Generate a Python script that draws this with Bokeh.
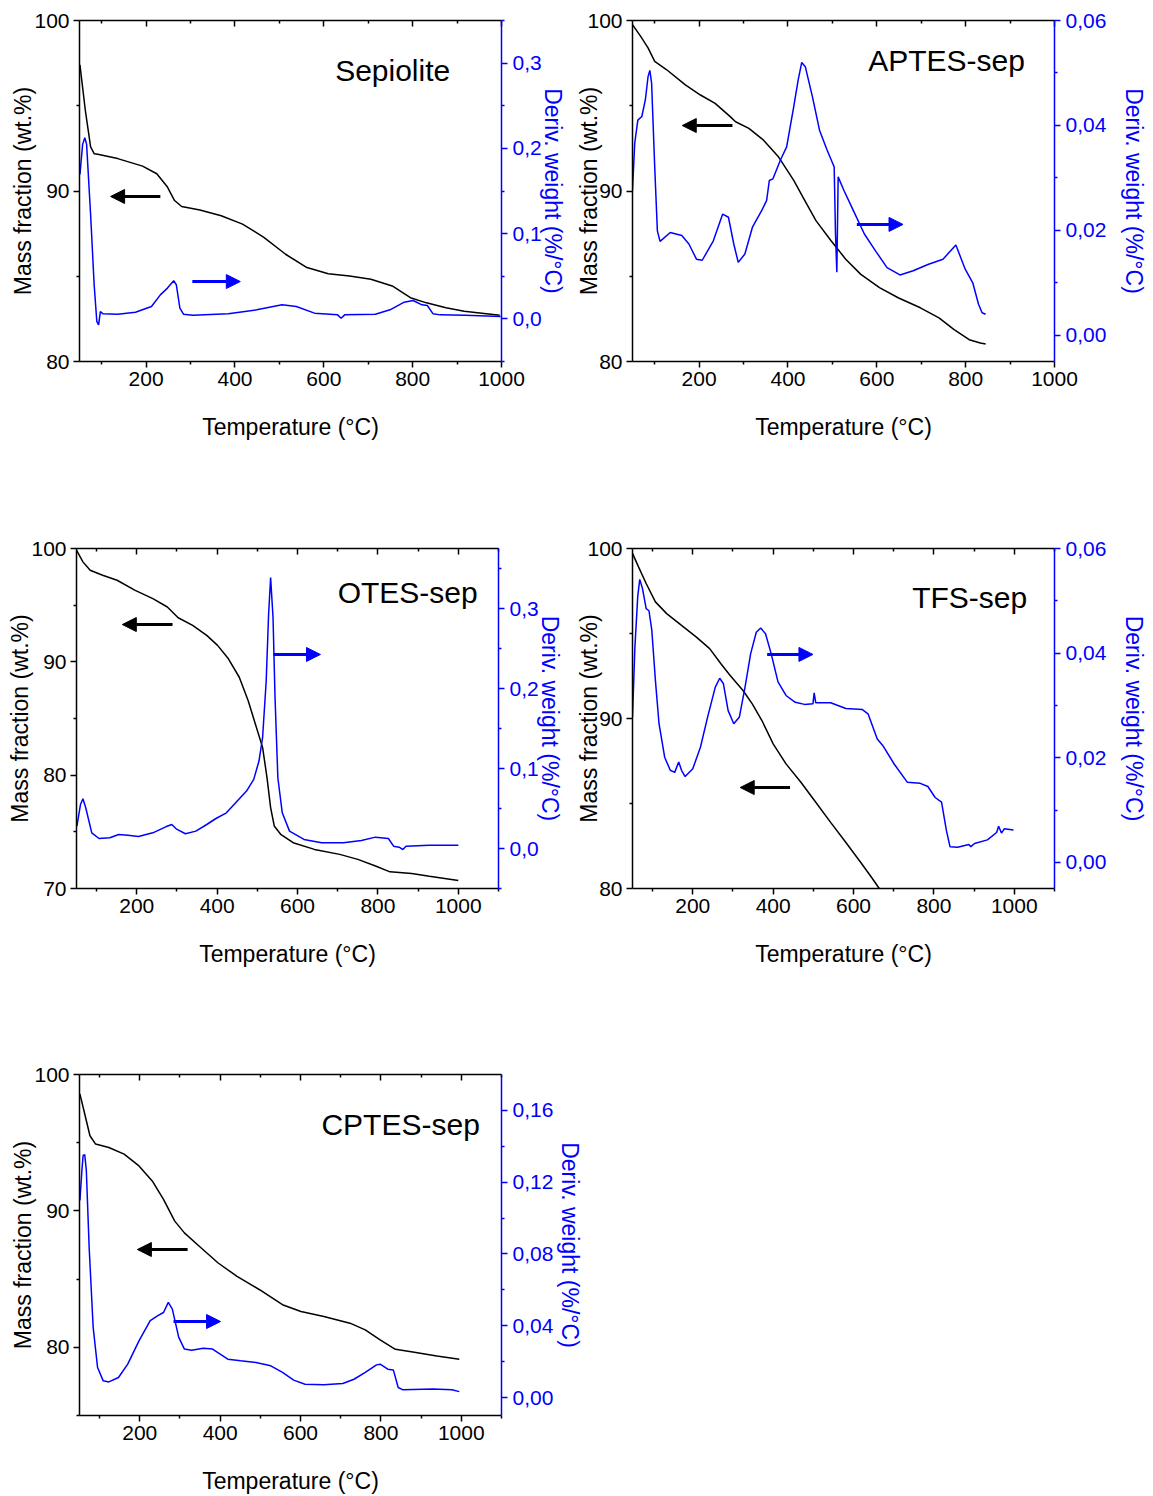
from bokeh.plotting import figure
from bokeh.models import (Range1d, LinearAxis, FixedTicker, CustomJSTickFormatter,
                          Arrow, NormalHead, Label)
from bokeh.layouts import column, row
from bokeh.embed import file_html
from bokeh.resources import INLINE

FONT = "Liberation Sans"
BLUE = "#0000ff"

# ---------------- data ----------------
# Sepiolite
sep_T_mass = [51, 63, 75, 83, 91, 136, 192, 224, 248, 264, 280, 321, 369, 417, 465, 514,
              562, 610, 658, 706, 754, 795, 831, 875, 916, 996]
sep_mass = [97.40, 94.75, 92.59, 92.19, 92.15, 91.90, 91.46, 91.01, 90.23, 89.44, 89.09, 88.89,
            88.55, 88.06, 87.28, 86.29, 85.51, 85.15, 85.01, 84.82, 84.43, 83.74, 83.44, 83.15,
            82.95, 82.71]
sep_T_dtg = [51, 57, 62, 66, 75, 83, 89, 93, 97, 103, 136, 176, 212, 232, 248, 262, 268, 276,
             284, 305, 385, 449, 506, 538, 579, 631, 639, 647, 716, 749, 781, 801, 821, 833,
             846, 862, 918, 998]
sep_dtg = [0.1694, 0.2047, 0.2125, 0.2047, 0.1224, 0.040, -0.003, -0.007, 0.0086, 0.0059,
           0.0055, 0.0078, 0.0145, 0.0282, 0.0361, 0.0447, 0.040, 0.0125, 0.0055, 0.0043,
           0.0059, 0.0106, 0.0165, 0.0145, 0.0067, 0.0047, 0.0008, 0.0047, 0.0055, 0.0106,
           0.0196, 0.0216, 0.0165, 0.0157, 0.0059, 0.0047, 0.0043, 0.0027]

# APTES-sep
aptes_T_mass = [50, 68, 85, 100, 127, 169, 203, 236, 270, 282, 312, 345, 379, 413, 438, 463,
                497, 530, 564, 606, 648, 698, 740, 774, 808, 833, 845]
aptes_mass = [99.76, 99.08, 98.39, 97.60, 97.11, 96.22, 95.63, 95.14, 94.36, 94.06, 93.67,
              92.98, 91.99, 90.62, 89.44, 88.26, 87.08, 86.00, 85.11, 84.33, 83.74, 83.15,
              82.56, 81.87, 81.28, 81.08, 81.02]
aptes_T_dtg = [50, 55, 62, 71, 79, 85, 89, 93, 100, 106, 112, 135, 161, 177, 194, 207, 232,
               253, 266, 278, 288, 303, 320, 341, 352, 358, 366, 383, 397, 413, 423, 431, 439,
               455, 471, 488, 501, 504, 507, 510, 513, 526, 547, 572, 597, 623, 652, 682, 715,
               749, 778, 799, 816, 829, 837, 845]
aptes_dtg = [0.0276, 0.0366, 0.0410, 0.0417, 0.0449, 0.0493, 0.0505, 0.0481, 0.0321, 0.0199,
             0.0179, 0.0196, 0.0190, 0.0174, 0.0145, 0.0143, 0.0180, 0.0231, 0.0225, 0.0174,
             0.0139, 0.0155, 0.0206, 0.0238, 0.0257, 0.0295, 0.0298, 0.0334, 0.0359, 0.0436,
             0.0487, 0.0520, 0.0512, 0.0455, 0.0391, 0.0353, 0.0327, 0.0321, 0.0193, 0.0120,
             0.0302, 0.0276, 0.0238, 0.0193, 0.0161, 0.0129, 0.0115, 0.0123, 0.0135, 0.0145,
             0.0172, 0.0126, 0.0100, 0.0059, 0.0043, 0.0040]

# OTES-sep
otes_T_mass = [50, 66, 84, 115, 151, 196, 240, 276, 303, 339, 374, 401, 428, 455, 477, 495,
               513, 524, 533, 542, 558, 589, 642, 705, 750, 794, 830, 884, 928, 1000]
otes_mass = [99.85, 98.82, 98.08, 97.64, 97.20, 96.31, 95.58, 94.84, 93.89, 93.22, 92.33,
             91.45, 90.27, 88.64, 86.58, 84.51, 82.45, 79.79, 77.14, 75.52, 74.78, 74.04,
             73.45, 73.01, 72.57, 71.98, 71.47, 71.33, 71.09, 70.71]
otes_T_dtg = [51, 60, 66, 73, 88, 106, 133, 155, 178, 204, 240, 272, 287, 298, 321, 347, 374,
              397, 423, 446, 473, 491, 504, 513, 522, 528, 533, 539, 544, 551, 562, 580, 616,
              660, 714, 759, 794, 826, 839, 853, 862, 870, 928, 1000]
otes_dtg = [0.0280, 0.0551, 0.0622, 0.0509, 0.0196, 0.0125, 0.0134, 0.0175, 0.0167, 0.0150,
            0.0196, 0.0271, 0.0300, 0.0246, 0.0184, 0.0217, 0.0300, 0.0375, 0.0446, 0.0572,
            0.0718, 0.0864, 0.1093, 0.1385, 0.2094, 0.2929, 0.3388, 0.2887, 0.1886, 0.0884,
            0.0446, 0.0217, 0.0113, 0.0071, 0.0071, 0.0100, 0.0142, 0.0125, 0.0029, 0.0017,
            -0.0013, 0.0029, 0.0042, 0.0042]

# TFS-sep
tfs_T_mass = [50, 65, 84, 107, 135, 172, 209, 242, 270, 293, 325, 348, 372, 400, 432, 469,
              506, 543, 581, 618, 645, 664]
tfs_mass = [99.71, 98.92, 97.94, 96.86, 96.17, 95.48, 94.79, 94.11, 93.22, 92.53, 91.65, 90.86,
            89.88, 88.51, 87.33, 86.25, 85.07, 83.89, 82.71, 81.53, 80.65, 80.00]
tfs_T_dtg = [50, 56, 63, 68, 75, 84, 91, 98, 107, 116, 130, 144, 155, 165, 172, 181, 200, 219,
             237, 256, 267, 276, 288, 302, 316, 330, 344, 358, 369, 381, 395, 412, 432, 455,
             478, 499, 502, 506, 543, 581, 622, 636, 659, 673, 701, 734, 766, 785, 803, 819,
             831, 840, 859, 887, 892, 901, 933, 956, 961, 968, 975, 998]
tfs_dtg = [0.0278, 0.0412, 0.0508, 0.0541, 0.0523, 0.0485, 0.0481, 0.0444, 0.0348, 0.0265,
           0.0201, 0.0176, 0.0172, 0.0192, 0.0176, 0.0164, 0.0179, 0.0220, 0.0278, 0.0335,
           0.0352, 0.0342, 0.0290, 0.0265, 0.0278, 0.0335, 0.0399, 0.0440, 0.0448, 0.0437,
           0.0399, 0.0345, 0.0319, 0.0306, 0.0302, 0.0303, 0.0324, 0.0305, 0.0305, 0.0294,
           0.0292, 0.0284, 0.0236, 0.0223, 0.0188, 0.0153, 0.0151, 0.0145, 0.0124, 0.0115,
           0.0061, 0.0030, 0.0029, 0.0034, 0.0030, 0.0036, 0.0043, 0.0057, 0.0069, 0.0056,
           0.0064, 0.0062]

# CPTES-sep
cptes_T_mass = [51, 62, 76, 90, 123, 161, 198, 231, 259, 287, 311, 348, 395, 442, 498, 555,
                601, 658, 723, 761, 798, 836, 883, 939, 995]
cptes_mass = [98.58, 97.23, 95.51, 94.90, 94.65, 94.16, 93.30, 92.20, 90.85, 89.25, 88.39,
              87.41, 86.18, 85.20, 84.22, 83.12, 82.63, 82.26, 81.77, 81.28, 80.54, 79.85,
              79.63, 79.36, 79.12]
cptes_T_dtg = [51, 56, 59, 63, 67, 74, 84, 95, 109, 123, 147, 170, 198, 226, 245, 259, 271,
               281, 297, 311, 329, 358, 381, 400, 419, 451, 489, 526, 555, 583, 611, 658, 705,
               733, 761, 789, 798, 817, 831, 843, 855, 930, 977, 995]
cptes_dtg = [0.1098, 0.1265, 0.1349, 0.1354, 0.1265, 0.0837, 0.0391, 0.0167, 0.0093, 0.0087,
             0.0112, 0.0186, 0.0316, 0.0428, 0.0456, 0.0474, 0.0530, 0.0493, 0.0335, 0.0270,
             0.0264, 0.0275, 0.0270, 0.0242, 0.0214, 0.0205, 0.0195, 0.0177, 0.0140, 0.0097,
             0.0074, 0.0071, 0.0078, 0.0102, 0.0140, 0.0182, 0.0186, 0.0158, 0.0153, 0.0056,
             0.0043, 0.0047, 0.0043, 0.0033]

titles = ["Sepiolite", "APTES-sep", "OTES-sep", "TFS-sep", "CPTES-sep"]
x_label = "Temperature (\u00b0C)"
y_label = "Mass fraction (wt.%)"
d_label = "Deriv. weight (%/\u00b0C)"


def comma_fmt(dec):
    return CustomJSTickFormatter(code="return tick.toFixed(%d).replace('.', ',');" % dec)


def style_axis(ax, color, tick_in=False):
    ax.axis_line_color = color
    ax.axis_line_width = 1.5
    ax.major_tick_line_color = color
    ax.minor_tick_line_color = color
    ax.major_tick_line_width = 1.5
    ax.minor_tick_line_width = 1.5
    if tick_in:
        ax.major_tick_in, ax.major_tick_out = 6, 0
        ax.minor_tick_in, ax.minor_tick_out = 3, 0
    else:
        ax.major_tick_in, ax.major_tick_out = 0, 6
        ax.minor_tick_in, ax.minor_tick_out = 0, 3
    ax.major_label_text_color = color
    ax.major_label_text_font = FONT
    ax.major_label_text_font_size = "21px"
    ax.axis_label_text_color = color
    ax.axis_label_text_font = FONT
    ax.axis_label_text_font_size = "23px"
    ax.axis_label_text_font_style = "normal"


def make_panel(title, Tm, m, Td, d, xr, yr, dr, yt, ymin, dt, dmin, ddec, title_pos,
               black_arrow, blue_arrow, width, height, bl, br, bt, bb, y_standoff, d_standoff):
    p = figure(width=width, height=height, x_range=Range1d(*xr), y_range=Range1d(*yr),
               output_backend="svg", toolbar_location=None,
               min_border_left=bl, min_border_right=br, min_border_top=bt,
               min_border_bottom=bb)
    p.extra_y_ranges = {"d": Range1d(*dr)}
    p.grid.visible = False
    p.outline_line_color = None
    p.background_fill_color = "white"
    p.border_fill_color = "white"

    xmajor = [200, 400, 600, 800, 1000]
    xminor = [100, 300, 500, 700, 900, 1100]

    xa = p.xaxis[0]
    xa.ticker = FixedTicker(ticks=xmajor, minor_ticks=xminor)
    xa.axis_label = x_label
    style_axis(xa, "black")
    xa.major_label_standoff = 4
    xa.axis_label_standoff = 25

    ya = p.yaxis[0]
    ya.ticker = FixedTicker(ticks=yt, minor_ticks=ymin)
    ya.axis_label = y_label
    style_axis(ya, "black")
    ya.major_label_standoff = 4
    ya.axis_label_standoff = y_standoff

    top = LinearAxis(ticker=FixedTicker(ticks=xmajor, minor_ticks=xminor),
                     formatter=CustomJSTickFormatter(code="return '';"))
    style_axis(top, "black", tick_in=True)
    top.major_label_text_font_size = "1px"
    top.major_label_standoff = 0
    p.add_layout(top, "above")

    ra = LinearAxis(y_range_name="d", ticker=FixedTicker(ticks=dt, minor_ticks=dmin),
                    formatter=comma_fmt(ddec), axis_label=d_label)
    style_axis(ra, BLUE)
    ra.major_label_standoff = 5
    ra.axis_label_standoff = d_standoff
    p.add_layout(ra, "right")

    p.line(Tm, m, line_color="black", line_width=1.5)
    p.line(Td, d, line_color=BLUE, line_width=1.5, y_range_name="d")

    p.add_layout(Label(x=title_pos[0], y=title_pos[1], text=title, text_font=FONT,
                       text_font_size="30px", text_color="black", text_align="center",
                       text_baseline="middle"))
    (bx0, bx1, by) = black_arrow
    p.add_layout(Arrow(end=NormalHead(size=14, fill_color="black", line_color="black"),
                       x_start=bx0, y_start=by, x_end=bx1, y_end=by,
                       line_color="black", line_width=3))
    (ux0, ux1, uy) = blue_arrow
    p.add_layout(Arrow(end=NormalHead(size=14, fill_color=BLUE, line_color=BLUE),
                       x_start=ux0, y_start=uy, x_end=ux1, y_end=uy,
                       line_color=BLUE, line_width=3))
    return p


p1 = make_panel(titles[0], sep_T_mass, sep_mass, sep_T_dtg, sep_dtg,
                (50, 1000), (80, 100), (-0.05, 0.35), [80, 90, 100], [85, 95],
                [0.0, 0.1, 0.2, 0.3], [-0.05, 0.05, 0.15, 0.25, 0.35], 1,
                (755, 97.07), (232, 120, 89.68), (304, 412, 84.69),
                568, 536, 79, 67, 20, 175, -5, -5)
p2 = make_panel(titles[1], aptes_T_mass, aptes_mass, aptes_T_dtg, aptes_dtg,
                (50, 1000), (80, 100), (-0.005, 0.06), [80, 90, 100], [85, 95],
                [0.0, 0.02, 0.04, 0.06], [0.01, 0.03, 0.05], 2,
                (757, 97.65), (275, 162, 93.84), (555, 659, 88.04),
                582, 536, 64, 95, 20, 175, -18, 12)
p3 = make_panel(titles[2], otes_T_mass, otes_mass, otes_T_dtg, otes_dtg,
                (50, 1100), (70, 100), (-0.05, 0.375), [70, 80, 90, 100], [75, 85, 95],
                [0.0, 0.1, 0.2, 0.3], [-0.05, 0.05, 0.15, 0.25, 0.35], 1,
                (874, 96.12), (289, 164, 93.29), (540, 657, 90.65),
                565, 526, 76, 67, 12, 174, -5, -5)
p4 = make_panel(titles[3], tfs_T_mass, tfs_mass, tfs_T_dtg, tfs_dtg,
                (50, 1100), (80, 100), (-0.005, 0.06), [80, 90, 100], [85, 95],
                [0.0, 0.02, 0.04, 0.06], [0.01, 0.03, 0.05], 2,
                (889, 97.12), (442, 318, 85.94), (385, 499, 93.77),
                585, 526, 67, 95, 12, 174, -18, 12)
p5 = make_panel(titles[4], cptes_T_mass, cptes_mass, cptes_T_dtg, cptes_dtg,
                (50, 1100), (75, 100), (-0.01, 0.18), [80, 90, 100], [75, 85, 95],
                [0.0, 0.04, 0.08, 0.12, 0.16], [0.02, 0.06, 0.10, 0.14], 2,
                (849, 96.33), (319, 194, 87.17), (284, 401, 81.89),
                586, 434, 79, 85, 12, 81, -5, 1)

layout = column(row(p1, p2), row(p3, p4), row(p5))
open("out.html", "w").write(file_html(layout, INLINE))
